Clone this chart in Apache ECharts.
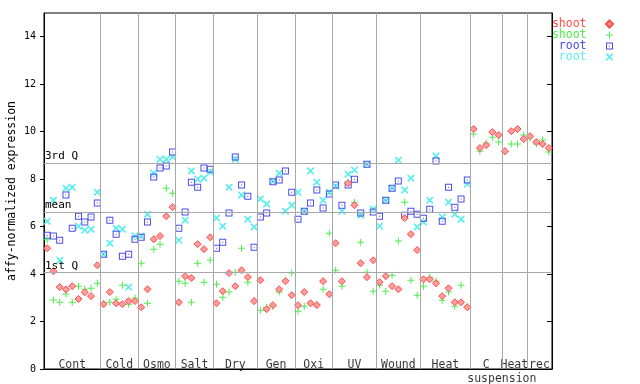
<!DOCTYPE html>
<html><head><meta charset="utf-8">
<script src="https://cdn.jsdelivr.net/npm/echarts@6/dist/echarts.min.js"></script>
<style>html,body{margin:0;padding:0;background:#fff}#c{width:640px;height:384px}</style>
</head><body><div id="c"></div>
<script>
// ---- data ----
const groupNames = ['Cont','Cold','Osmo','Salt','Dry','Gen','Oxi','UV','Wound','Heat','C','Heat','rec'];
const groupSizes = [9,6,6,6,7,6,6,7,7,8,5,4,4];
const subLabel = 'suspension';
const yTicks = [0,2,4,6,8,10,12,14];
const refNames = ['3rd Q','mean','1st Q'];
const refValues = [8.68, 6.61, 4.08];

const shootRed = [
 5.09,4.12,3.45,3.35,3.49,2.95,3.23,3.07,4.37,
 2.73,3.24,2.77,2.73,2.86,2.86,
 2.60,3.36,5.47,5.60,6.44,6.82,
 2.81,3.91,3.83,5.26,5.05,5.55,
 2.77,3.28,4.04,3.49,4.16,3.87,2.86,
 3.74,2.52,2.69,3.36,3.70,3.11,
 2.69,3.24,2.77,2.69,3.70,3.15,
 5.30,3.70,7.83,6.90,4.46,3.87,4.58,
 3.66,3.91,3.49,3.36,6.36,5.68,5.01,
 3.78,3.78,3.61,3.07,3.40,2.81,2.81,2.60,
 10.11,9.31,9.43,9.98,9.86,
 9.18,10.02,10.11,9.69,
 9.81,9.56,9.48,9.31];
const shootGreen = [
 5.45,2.91,2.81,3.16,2.81,3.49,3.36,3.40,3.61,
 2.77,2.81,2.94,3.53,2.73,2.98,
 4.46,2.77,5.05,5.26,7.62,7.41,
 3.70,3.61,2.81,4.46,3.66,4.58,
 3.57,3.02,3.24,4.08,5.09,3.66,2.86,
 2.48,2.60,2.64,3.24,3.74,4.04,
 2.43,2.64,2.77,2.73,3.36,5.72,
 4.16,3.49,7.87,7.03,5.34,4.08,3.28,
 3.53,3.28,3.95,5.39,7.03,3.74,3.11,
 3.49,3.87,3.70,2.90,3.24,2.64,3.53,2.64,
 9.90,9.18,9.52,9.77,9.56,
 9.18,9.48,9.48,9.86,
 9.73,9.48,9.65,9.14];
const rootBlue = [
 5.64,5.60,5.43,7.33,5.93,6.44,6.19,6.40,6.99,
 4.84,6.27,5.68,4.75,4.84,5.47,
 5.55,6.19,8.09,8.47,8.55,9.14,
 5.93,6.61,7.87,7.66,8.47,8.42,
 5.09,5.34,6.57,8.93,7.75,7.28,5.13,
 6.40,6.57,7.89,7.96,8.34,7.45,
 6.31,6.65,6.99,7.54,6.78,7.37,
 7.75,6.90,7.75,8.00,6.57,8.63,6.61,
 6.44,7.11,7.62,7.92,6.48,6.65,6.52,
 6.35,6.73,8.76,6.23,7.66,6.82,7.16,7.96];
const rootCyan = [
 6.23,7.11,4.58,7.62,7.66,6.02,5.85,5.89,7.45,
 4.84,5.30,5.93,5.89,3.45,5.60,
 5.60,6.52,8.25,8.84,8.84,8.93,
 5.43,6.27,8.34,8.00,8.04,8.30,
 6.36,6.02,7.66,8.84,7.33,6.31,5.98,
 7.16,6.95,7.91,8.25,6.65,6.90,
 7.45,6.65,8.34,7.87,7.11,7.45,
 7.70,6.65,8.21,8.38,6.48,8.63,6.74,
 6.02,7.11,7.62,8.80,7.54,8.04,5.98,
 6.19,7.11,8.97,6.40,7.03,6.52,6.31,7.79];

// ---- chart ----
const FONT = 'DejaVu Sans Mono';
const GRAY = '#a8a8a8';
let acc = 0; const bounds = []; const centers = [];
groupSizes.forEach(n => { centers.push(acc + n / 2); acc += n; bounds.push(acc); });
const total = acc;
const pts = arr => arr.map((v, i) => [i + 0.5, v]);

const PLUS = 'path://M3,0h1v3h3v1h-3v3h-1v-3h-3v-1h3z';
const SQUARE = 'path://M0,0h7v7h-7z M1,1v5h5v-5z M3,3h1v1h-1z';
const CROSS = 'path://M0,0H1.2L3.5,2.3L5.8,0H7V1.2L4.7,3.5L7,5.8V7H5.8L3.5,4.7L1.2,7H0V5.8L2.3,3.5L0,1.2Z';
const DIAMOND = 'path://M3.5,0L7,3.5L3.5,7L0,3.5Z';

const C_RED = '#ff4c4c', C_GREEN = '#4cee4c', C_BLUE = '#4c4cee', C_CYAN = '#5ceeee';

const helperData = centers.map((c, k) => ({ value: [c, 0], label: { formatter: groupNames[k] } }));
helperData.push({ value: [bounds[10], 0], label: { formatter: subLabel, position: 'bottom', distance: 2 } });

const markData = bounds.slice(0, -1).map(b => ({ xAxis: b, label: { show: false } }));
refValues.forEach((v, k) => markData.push({
  yAxis: v,
  label: { show: true, formatter: refNames[k], position: 'insideStartTop', distance: [1, 1],
           color: '#000', fontFamily: FONT, fontSize: 11 }
}));

const sc = (name, data, symbol, size, color, extra) => ({
  type: 'scatter', name, data: pts(data), symbol, symbolSize: size, z: 3,
  itemStyle: Object.assign({ color, opacity: 1 }, extra || {}),
  emphasis: { disabled: true }, animation: false
});

const option = {
  animation: false,
  backgroundColor: '#fff',
  grid: { left: 44, right: 88, top: 13, bottom: 15, show: true, borderColor: '#000', borderWidth: 1, outerBoundsMode: 'none' },
  legend: {
    orient: 'vertical', right: 26, top: 18, itemGap: -1, itemWidth: 36, itemHeight: 7,
    align: 'right', symbolKeepAspect: true, selectedMode: false, padding: 0,
    formatter: n => n.replace(/_\d$/, ''),
    textStyle: { fontFamily: FONT, fontSize: 11.5, lineHeight: 11 },
    data: [
      { name: 'shoot_1', textStyle: { color: C_RED } },
      { name: 'shoot_2', textStyle: { color: C_GREEN } },
      { name: 'root_1', textStyle: { color: C_BLUE } },
      { name: 'root_2', textStyle: { color: C_CYAN } }
    ]
  },
  xAxis: [{
    type: 'value', min: 0, max: total, position: 'bottom',
    axisLine: { show: true, onZero: false, lineStyle: { color: '#000', width: 1 } },
    axisTick: { show: false }, axisLabel: { show: false }, splitLine: { show: false }
  }],
  yAxis: [{
    type: 'value', min: 0, max: 15, position: 'left',
    axisLine: { show: true, onZero: false, lineStyle: { color: '#000' } },
    axisTick: { show: true, length: 4, inside: false, customValues: yTicks, lineStyle: { color: '#000' } },
    axisLabel: { show: true, customValues: yTicks, margin: 8, color: '#000', fontFamily: FONT, fontSize: 10 },
    splitLine: { show: false },
    name: 'affy-normalized expression', nameLocation: 'middle', nameGap: 26, nameRotate: 90,
    nameMoveOverlap: false,
    nameTextStyle: { fontFamily: FONT, fontSize: 11.5, color: '#000' }
  }, {
    type: 'value', min: 0, max: 15, position: 'right',
    axisLine: { show: true, onZero: false, lineStyle: { color: '#000' } },
    axisTick: { show: true, length: 5, inside: true, customValues: yTicks, lineStyle: { color: '#000' } },
    axisLabel: { show: false }, splitLine: { show: false }
  }],
  series: [
    {
      type: 'scatter', name: '_helper', data: helperData, symbolSize: 0, clip: false, z: 1, silent: true,
      itemStyle: { color: 'transparent' },
      label: { show: true, position: 'top', distance: 0, offset: [0, 2], color: '#000', fontFamily: FONT, fontSize: 11.5 },
      markLine: {
        silent: true, symbol: ['none', 'none'], animation: false,
        lineStyle: { color: GRAY, type: 'solid', width: 1 },
        emphasis: { disabled: true },
        data: markData
      }
    },
    sc('root_2', rootCyan, CROSS, 7, C_CYAN),
    sc('root_1', rootBlue, SQUARE, 7, C_BLUE),
    sc('shoot_2', shootGreen, PLUS, 7, C_GREEN),
    sc('shoot_1', shootRed, DIAMOND, 7, '#ff9c9c', { borderColor: C_RED, borderWidth: 1 })
  ]
};
const chart = echarts.init(document.getElementById('c'), null, { renderer: 'canvas' });
chart.setOption(option);
</script></body></html>
